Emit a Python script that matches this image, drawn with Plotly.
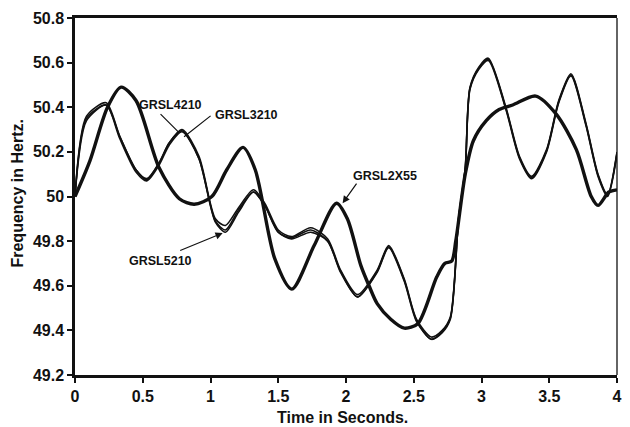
import plotly.graph_objects as go

# ---------------- data ----------------
t_4210 = [0.00, 0.085, 0.23, 0.33, 0.45, 0.53, 0.62, 0.695, 0.79, 0.915, 1.036, 1.11, 1.207, 1.317,
          1.40, 1.50, 1.597, 1.74, 1.865, 1.96, 2.085, 2.23, 2.315, 2.43, 2.52, 2.63, 2.71, 2.77,
          2.83, 2.88, 2.915, 2.98, 3.05, 3.18, 3.28, 3.37, 3.48, 3.57, 3.66, 3.77, 3.86, 3.93, 4.00]
f_4210 = [50.00, 50.36, 50.42, 50.27, 50.12, 50.08, 50.15, 50.24, 50.30, 50.18, 49.90, 49.87, 49.95, 50.03,
          49.97, 49.85, 49.82, 49.86, 49.81, 49.67, 49.56, 49.67, 49.78, 49.63, 49.45, 49.37, 49.40, 49.46,
          49.90, 50.13, 50.49, 50.58, 50.62, 50.40, 50.18, 50.09, 50.21, 50.43, 50.55, 50.33, 50.10, 50.01, 50.20]

t_3210 = [0.00, 0.085, 0.23, 0.33, 0.45, 0.53, 0.62, 0.695, 0.79, 0.915, 1.036, 1.11, 1.207, 1.317,
          1.40, 1.50, 1.597, 1.74, 1.865, 1.96, 2.085, 2.23, 2.315, 2.43, 2.52, 2.63, 2.71, 2.77,
          2.83, 2.88, 2.915, 2.98, 3.05, 3.18, 3.28, 3.37, 3.48, 3.57, 3.66, 3.77, 3.86, 3.93, 4.00]
f_3210 = [50.00, 50.34, 50.41, 50.26, 50.11, 50.07, 50.14, 50.23, 50.29, 50.17, 49.89, 49.85, 49.94, 50.02,
          49.96, 49.84, 49.81, 49.84, 49.80, 49.66, 49.55, 49.66, 49.77, 49.62, 49.44, 49.36, 49.39, 49.45,
          49.89, 50.12, 50.48, 50.57, 50.61, 50.39, 50.17, 50.08, 50.20, 50.42, 50.54, 50.32, 50.09, 50.00, 50.19]

t_5210 = [0.00, 0.085, 0.23, 0.33, 0.45, 0.53, 0.62, 0.695, 0.79, 0.915, 1.036, 1.11, 1.207, 1.317,
          1.40, 1.50, 1.597, 1.74, 1.865, 1.96, 2.085, 2.23, 2.315, 2.43, 2.52, 2.63, 2.71, 2.77,
          2.83, 2.88, 2.915, 2.98, 3.05, 3.18, 3.28, 3.37, 3.48, 3.57, 3.66, 3.77, 3.86, 3.93, 4.00]
f_5210 = [50.00, 50.35, 50.41, 50.27, 50.12, 50.075, 50.15, 50.24, 50.295, 50.17, 49.885, 49.84, 49.93, 50.02,
          49.96, 49.84, 49.815, 49.85, 49.80, 49.665, 49.55, 49.665, 49.775, 49.625, 49.445, 49.36, 49.395, 49.455,
          49.895, 50.125, 50.485, 50.575, 50.615, 50.395, 50.175, 50.085, 50.205, 50.425, 50.545, 50.325, 50.095, 50.005, 50.195]

t_2x55 = [0.00, 0.11, 0.24, 0.34, 0.45, 0.62, 0.77, 0.88, 1.01, 1.12, 1.24, 1.33, 1.475, 1.60, 1.765,
          1.93, 2.01, 2.11, 2.17, 2.23, 2.33, 2.43, 2.53, 2.67, 2.73, 2.78, 2.81, 2.88, 2.94, 3.035,
          3.13, 3.23, 3.40, 3.55, 3.70, 3.81, 3.86, 3.94, 4.00]
f_2x55 = [50.00, 50.16, 50.40, 50.49, 50.43, 50.13, 49.99, 49.965, 50.00, 50.12, 50.22, 50.12, 49.72, 49.585, 49.78,
          49.97, 49.90, 49.69, 49.60, 49.52, 49.45, 49.41, 49.43, 49.64, 49.70, 49.71, 49.80, 50.10, 50.25, 50.34,
          50.39, 50.41, 50.45, 50.37, 50.21, 50.00, 49.96, 50.02, 50.03]

x_ticks = [0, 0.5, 1, 1.5, 2, 2.5, 3, 3.5, 4]
x_tick_labels = ["0", "0.5", "1", "1.5", "2", "2.5", "3", "3.5", "4"]
y_ticks = [49.2, 49.4, 49.6, 49.8, 50.0, 50.2, 50.4, 50.6, 50.8]
y_tick_labels = ["49.2", "49.4", "49.6", "49.8", "50", "50.2", "50.4", "50.6", "50.8"]

x_title = "Time in Seconds."
y_title = "Frequency in Hertz."

# label name, text position (data), arrow head (data), tail offset px, arrowhead style
labels = [
    ("GRSL4210", (0.706, 50.411), (0.768, 50.286), (-20, -20), 0),
    ("GRSL3210", (1.269, 50.364), (0.805, 50.268), (28, -22), 0),
    ("GRSL2X55", (2.290, 50.091), (1.975, 49.970), (15, -21), 2),
    ("GRSL5210", (0.634, 49.709), (1.090, 49.836), (-44, 18), 2),
]

# ---------------- figure ----------------
FONT = "Liberation Sans, Arial, Helvetica, sans-serif"
INK = "#111111"

fig = go.Figure()
for name, t, f in [("GRSL4210", t_4210, f_4210), ("GRSL3210", t_3210, f_3210), ("GRSL5210", t_5210, f_5210)]:
    fig.add_trace(go.Scatter(x=t, y=f, mode="lines", name=name,
                             line=dict(color=INK, width=1.6, shape="spline", smoothing=0.75)))
fig.add_trace(go.Scatter(x=t_2x55, y=f_2x55, mode="lines", name="GRSL2X55",
                         line=dict(color=INK, width=3.4, shape="spline", smoothing=0.8)))

annotations = []
for name, (tx, ty), (hx, hy), (ax, ay), head in labels:
    annotations.append(dict(x=tx, y=ty, xref="x", yref="y", text=name, showarrow=False,
                            xanchor="center", yanchor="middle",
                            font=dict(family=FONT, size=12.5, color=INK, weight="bold")))
    annotations.append(dict(x=hx, y=hy, xref="x", yref="y", text="", showarrow=True,
                            ax=ax, ay=ay, arrowhead=head, arrowsize=1.2, arrowwidth=1.2,
                            arrowcolor=INK))

annotations.append(dict(x=(345 - 75) / 547, y=(375 - 417) / 357, xref="paper", yref="paper",
                        text=x_title, showarrow=False, xanchor="center", yanchor="middle",
                        font=dict(family=FONT, size=16, color=INK, weight="bold")))
annotations.append(dict(x=(16 - 75) / 547, y=(375 - 194) / 357, xref="paper", yref="paper",
                        text=y_title, showarrow=False, textangle=-90, xanchor="center", yanchor="middle",
                        font=dict(family=FONT, size=16, color=INK, weight="bold")))

fig.update_layout(
    width=630, height=427,
    margin=dict(l=75, r=8, t=18, b=52, pad=0),
    paper_bgcolor="white", plot_bgcolor="white",
    showlegend=False,
    annotations=annotations,
    shapes=[dict(type="line", xref="paper", yref="paper", x0=1, x1=1, y0=0, y1=1,
                 line=dict(color=INK, width=1.3))],
)
fig.update_xaxes(range=[0, 4], tickvals=x_ticks, ticktext=x_tick_labels,
                 showgrid=False, zeroline=False, showline=True, linecolor=INK, linewidth=2.5,
                 mirror=True, ticks="outside", ticklen=5, tickwidth=1.8, tickcolor=INK,
                 tickfont=dict(family=FONT, size=16, color=INK, weight="bold"))
fig.update_yaxes(range=[49.2, 50.8], tickvals=y_ticks, ticktext=y_tick_labels,
                 showgrid=False, zeroline=False, showline=True, linecolor=INK, linewidth=2.5,
                 mirror=False, ticks="outside", ticklen=5, tickwidth=1.8, tickcolor=INK,
                 tickfont=dict(family=FONT, size=16, color=INK, weight="bold"))

fig.write_html("out.html")
